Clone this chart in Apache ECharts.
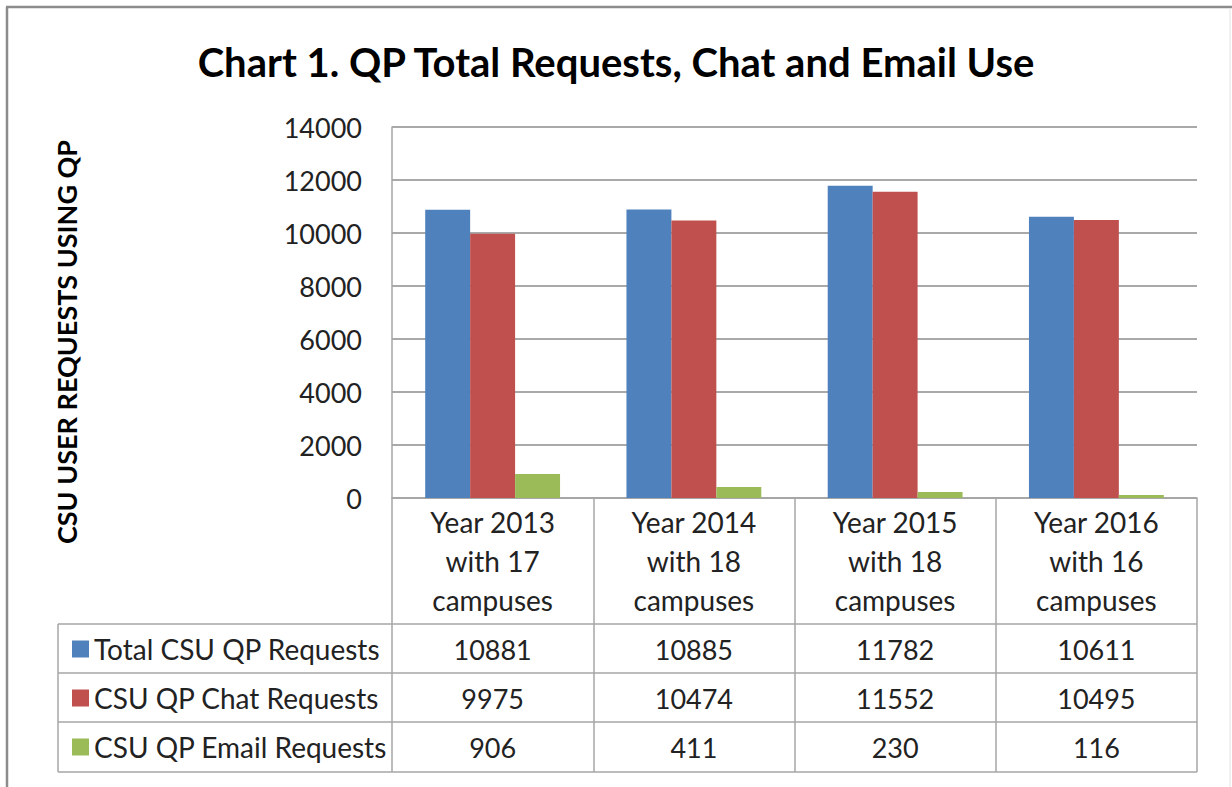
<!DOCTYPE html>
<html>
<head>
<meta charset="utf-8">
<script src="https://cdn.jsdelivr.net/npm/echarts@6/dist/echarts.min.js"></script>
<style>
  html, body { margin: 0; padding: 0; background: #fff; }
  #chart { width: 1232px; height: 787px; }
</style>
</head>
<body>
<div id="chart"></div>
<script>
// data
const categories = ['Year 2013\nwith 17\ncampuses', 'Year 2014\nwith 18\ncampuses', 'Year 2015\nwith 18\ncampuses', 'Year 2016\nwith 16\ncampuses']
const seriesNames = ['Total CSU QP Requests', 'CSU QP Chat Requests', 'CSU QP Email Requests']
const totalRequests = [10881, 10885, 11782, 10611]
const chatRequests = [9975, 10474, 11552, 10495]
const emailRequests = [906, 411, 230, 116]
const colors = ['#4F81BD', '#C0504D', '#9BBB59']

const font = 'Lato, "Open Sans", sans-serif'
const lineColor = '#A6A6A6'
const seriesData = [totalRequests, chatRequests, emailRequests]

// rows of the data table under the axis (centre of each row, below the axis)
const rowOffsets = [151, 200, 249]
const tableAxes = seriesData.map((vals, i) => ({
  type: 'category',
  gridIndex: 0,
  position: 'bottom',
  data: vals.map(String),
  axisLine: { show: false },
  axisTick: { show: false },
  axisLabel: {
    margin: rowOffsets[i],
    verticalAlign: 'middle',
    fontFamily: font,
    fontSize: 27,
    color: '#222',
  },
}))

const option = {
  backgroundColor: '#fff',
  animation: false,
  color: colors,
  title: {
    text: 'Chart 1. QP Total Requests, Chat and Email Use',
    left: 'center',
    top: 37,
    textStyle: { fontFamily: font, fontSize: 40, fontWeight: 'bold', color: '#000' },
  },
  legend: {
    orient: 'vertical',
    left: 67,
    top: 630,
    icon: 'rect',
    itemWidth: 17,
    itemHeight: 17,
    itemGap: 21,
    selectedMode: false,
    data: seriesNames,
    textStyle: { fontFamily: font, fontSize: 28, color: '#222' },
  },
  grid: { left: 392, right: 35, top: 127, bottom: 289 },
  xAxis: [
    {
      type: 'category',
      data: categories,
      axisLine: { lineStyle: { color: lineColor, width: 1.5 } },
      axisTick: { show: true, length: 274, lineStyle: { color: lineColor, width: 1.5 } },
      axisLabel: {
        margin: 63,
        verticalAlign: 'middle',
        interval: 0,
        fontFamily: font,
        fontSize: 28,
        lineHeight: 39,
        color: '#222',
      },
    },
    ...tableAxes,
  ],
  yAxis: {
    type: 'value',
    min: 0,
    max: 14000,
    interval: 2000,
    axisLine: { show: true, lineStyle: { color: lineColor, width: 1.5 } },
    axisTick: { show: false },
    splitLine: { lineStyle: { color: '#8C8C8C', width: 1.5 } },
    axisLabel: { margin: 30, fontFamily: font, fontSize: 27, color: '#222', formatter: v => String(v) },
  },
  graphic: [
    // outer frame
    { type: 'line', shape: { x1: 6, y1: 7, x2: 1232, y2: 7 }, style: { stroke: '#8C8C8C', lineWidth: 2.5 } },
    { type: 'line', shape: { x1: 7, y1: 7, x2: 7, y2: 787 }, style: { stroke: '#8C8C8C', lineWidth: 2.5 } },
    { type: 'line', shape: { x1: 1230, y1: 8, x2: 1230, y2: 787 }, style: { stroke: '#E4E4E4', lineWidth: 1 } },
    // table rule lines
    { type: 'line', shape: { x1: 58, y1: 624, x2: 1197, y2: 624 }, style: { stroke: lineColor, lineWidth: 1.5 } },
    { type: 'line', shape: { x1: 58, y1: 673, x2: 1197, y2: 673 }, style: { stroke: lineColor, lineWidth: 1.5 } },
    { type: 'line', shape: { x1: 58, y1: 722, x2: 1197, y2: 722 }, style: { stroke: lineColor, lineWidth: 1.5 } },
    { type: 'line', shape: { x1: 58, y1: 772, x2: 1197, y2: 772 }, style: { stroke: lineColor, lineWidth: 1.5 } },
    { type: 'line', shape: { x1: 58, y1: 624, x2: 58, y2: 772 }, style: { stroke: lineColor, lineWidth: 1.5 } },
    // y axis title
    {
      type: 'text',
      x: 66,
      y: 342,
      rotation: Math.PI / 2,
      style: {
        text: 'CSU USER REQUESTS USING QP',
        fontFamily: font,
        fontSize: 27,
        fontWeight: 'bold',
        fill: '#000',
        align: 'center',
        verticalAlign: 'middle',
      },
    },
  ],
  series: seriesNames.map((name, i) => ({
    name: name,
    type: 'bar',
    data: seriesData[i],
    barGap: '0%',
    barCategoryGap: '33%',
    itemStyle: { color: colors[i] },
  })),
}

const myChart = echarts.init(document.getElementById('chart'), null, { renderer: 'svg' })
myChart.setOption(option)
</script>
</body>
</html>
